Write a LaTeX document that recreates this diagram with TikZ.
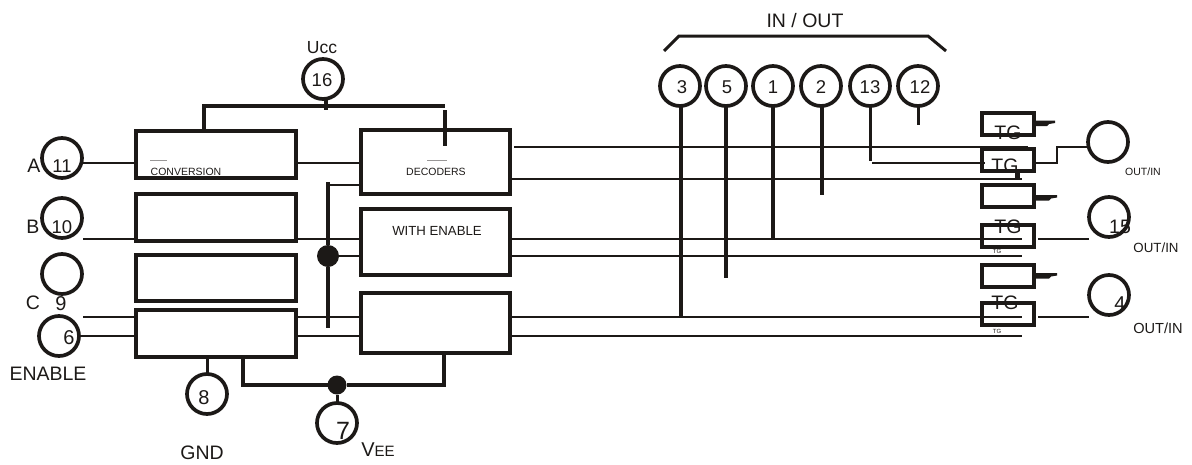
\documentclass[tikz,border=0pt]{standalone}
\usepackage{fontspec}
\setmainfont{Liberation Sans}
\definecolor{ink}{HTML}{1C1917}
\tikzset{
  txt/.style={font=\fontsize{#1}{#1}\selectfont, inner sep=0pt, outer sep=0pt, text=ink},
  pin/.style={circle, draw=ink, line width=3.7pt, minimum size=40pt, inner sep=0pt, outer sep=0pt},
  block/.style={rectangle, draw=ink, line width=4pt, inner sep=0pt, outer sep=0pt},
  tgbox/.style={block, minimum width=52pt, minimum height=22pt},
  wire/.style={draw=ink, line width=2.7pt},
  heavy/.style={draw=ink, line width=3.6pt},
  dot/.style={circle, fill=ink, inner sep=0pt, outer sep=0pt},
  stub/.style={fill=ink, draw=none},
  greek/.style={draw=ink!45, line width=1pt}
}
\begin{document}
\begin{tikzpicture}[x=1pt,y=-1pt]
\useasboundingbox (0,0) rectangle (1192,464);
% pins
\node[pin] (p11) at (62,158) {};
\node[pin] (p10) at (62,218) {};
\node[pin] (p9) at (62,274) {};
\node[pin] (p6) at (59,336) {};
\node[pin] (p8) at (207,394) {};
\node[pin] (p7) at (337,423) {};
\node[pin] (p16) at (323,79) {};
\node[pin] (p3) at (680,86) {};
\node[pin] (p5) at (726,86) {};
\node[pin] (p1) at (773,86) {};
\node[pin] (p2) at (821,86) {};
\node[pin] (p13) at (870,86) {};
\node[pin] (p12) at (918,86) {};
\node[pin] (pa) at (1108,142) {};
\node[pin] (p15) at (1109,217) {};
\node[pin] (p4) at (1109,295) {};
% blocks
\node[block, minimum width=160pt, minimum height=47pt] (c1) at (215.5,154) {};
\node[block, minimum width=160pt, minimum height=47pt] (c2) at (215.5,217.5) {};
\node[block, minimum width=160pt, minimum height=46pt] (c3) at (215.5,278) {};
\node[block, minimum width=160pt, minimum height=47pt] (c4) at (215.5,333.5) {};
\node[block, minimum width=149pt, minimum height=64pt] (d1) at (435.5,162) {};
\node[block, minimum width=149pt, minimum height=66pt] (d2) at (435.5,242) {};
\node[block, minimum width=149pt, minimum height=60pt] (d3) at (435.5,323) {};
% TG boxes
\node[tgbox] (t1) at (1008,124) {};
\node[tgbox] (t2) at (1008,160) {};
\node[tgbox] (t3) at (1008,196) {};
\node[tgbox] (t4) at (1008,236) {};
\node[tgbox] (t5) at (1008,276) {};
\node[tgbox] (t6) at (1008,314) {};
% junctions
\node[dot, minimum size=22pt] (j1) at (328,256) {};
\node[dot, minimum size=19pt] (j2) at (337,385) {};
% free ends
\coordinate (eA) at (83,163);
\coordinate (eB) at (83,239);
\coordinate (eC) at (83,317);
\coordinate (r1) at (514,147);
\coordinate (r1e) at (1028,147);
\coordinate (r2e) at (1022,179);
\coordinate (r3e) at (1022,239);
\coordinate (r4e) at (1022,256);
\coordinate (r5e) at (1022,317);
\coordinate (r6e) at (1022,336);
\coordinate (e13s) at (872,163);
\coordinate (e13e) at (985,163);
\coordinate (k1) at (1057,163);
\coordinate (k2) at (1057,147);
\coordinate (o4) at (1038,239);
\coordinate (o6) at (1038,317);
\coordinate (v1) at (328,182);
\coordinate (v2) at (328,328);
\coordinate (bus1) at (204,106);
\coordinate (bus2) at (445,106);
\coordinate (bus3) at (445,110);
\coordinate (bus4) at (445,146);
\coordinate (g1) at (243,385);
\coordinate (g2) at (444,385);
% wires left
\draw[wire] (p11.east |- eA) -- (c1.west |- eA);
\draw[wire] (eB) -- (c2.west |- eB);
\draw[wire] (eC) -- (c4.west |- eC);
\draw[wire] (p6.east) -- (c4.west |- p6.east);
\draw[wire] (c1.east |- eA) -- (d1.west |- eA);
\draw[wire] (c2.east |- eB) -- (d2.west |- eB);
\draw[wire] (c4.east |- eC) -- (d3.west |- eC);
\draw[wire] (c4.east |- p6.east) -- (d3.west |- p6.east);
\draw[wire] (j1) -- (d2.west |- j1);
\draw[heavy] (v1) -- (j1) -- (v2);
\draw[wire] (v1 |- 0,185) -- (d1.west |- 0,185);
% power
\draw[heavy, line width=4pt] (c1.north -| bus1) -- (bus1) -- (bus2);
\draw[heavy] (p16.south -| 326,0) -- (326,110);
\draw[heavy] (bus3) -- (bus4);
% ground / vee
\draw[wire, line width=3pt] (p8.north |- c4.south) -- (p8.north);
\draw[heavy] (c4.south -| g1) -- (g1) -- (j2) -- (g2) -- (d3.south -| g2);
\draw[wire, line width=3pt] (j2) -- (p7.north);
% long horizontals
\draw[wire] (r1) -- (r1e);
\draw[wire] (d1.east |- r2e) -- (r2e);
\draw[wire] (d2.east |- r3e) -- (r3e);
\draw[wire] (d2.east |- r4e) -- (r4e);
\draw[wire] (d3.east |- r5e) -- (r5e);
\draw[wire] (d3.east |- r6e) -- (r6e);
% I/O verticals
\draw[heavy] (p3.south -| 681,0) -- (681,316);
\draw[heavy] (p5.south) -- (726,278);
\draw[heavy] (p1.south) -- (773,238);
\draw[heavy] (p2.south -| 822,0) -- (822,195);
\draw[wire, line width=3pt] (p13.south) -- (870,161);
\draw[wire, line width=3pt] (p12.south) -- (918,125);
\draw[wire] (e13s) -- (e13e);
% brace
\draw[heavy, line width=3pt] (664,51) -- (679,36) -- (928,36) -- (946,51);
% TG outputs
\draw[wire] (t2.east |- k1) -- (k1) -- (k2) -- (pa.west |- k2);
\draw[wire] (o4) -- (p15.west |- o4);
\draw[wire] (o6) -- (p4.west |- o6);
\fill[stub] (t1.east |- 0,120.5) -- (1055,120.5) -- (1055,123) -- (1049,124) -- (1047,126) -- (t1.east |- 0,126) -- cycle;
\fill[stub] (t3.east |- 0,195) -- (1057,195) -- (1057,197.5) -- (1051,198.5) -- (1049,200.5) -- (t3.east |- 0,200.5) -- cycle;
\fill[stub] (t5.east |- 0,273) -- (1057,273) -- (1057,275.5) -- (1051,276.5) -- (1049,278.5) -- (t5.east |- 0,278.5) -- cycle;
\fill[stub] (1015,172) rectangle (1020,178);
% tiny marks
\draw[greek] (150,160) -- (167,160);
\draw[greek] (427,160) -- (447,160);
% labels
\node[txt=17.5] (lucc) at (322,48) {Ucc};
\node[txt=19.5] (lio) at (805,21) {IN / OUT};
\node[txt=19.5] (lA) at (34,166) {A};
\node[txt=19.5] (lB) at (33,227) {B};
\node[txt=19.5] (lC) at (33,303) {C};
\node[txt=19.5] (lenable) at (48,374) {ENABLE};
\node[txt=19.5] (lgnd) at (202,453) {GND};
\node[txt=20] (lvee) at (378,450) {V{\fontsize{15}{15}\selectfont EE}};
\node[txt=18.5] (n11) at (62,166) {11};
\node[txt=18.5] (n10) at (62,227) {10};
\node[txt=20] (n9) at (61,304) {9};
\node[txt=20] (n6) at (69,338) {6};
\node[txt=20] (n8) at (204,398) {8};
\node[txt=25] (n7) at (343,431) {7};
\node[txt=18.5] (n16) at (322,80) {16};
\node[txt=18.5] (n3) at (682,87) {3};
\node[txt=18.5] (n5) at (727,87) {5};
\node[txt=18.5] (n1) at (773,87) {1};
\node[txt=18.5] (n2) at (821,87) {2};
\node[txt=18.5] (n13) at (870,87) {13};
\node[txt=18.5] (n12) at (920,87) {12};
\node[txt=19.5] (n15) at (1120,227) {15};
\node[txt=20] (n4) at (1120,304) {4};
\node[txt=10.5] (lconv) at (186,172) {CONVERSION};
\node[txt=10.5] (ldec) at (436,172) {DECODERS};
\node[txt=13.2] (lwith) at (437,231) {WITH ENABLE};
\node[txt=19.5] (tg1) at (1008,133) {TG};
\node[txt=19.5] (tg2) at (1005,166) {TG};
\node[txt=19.5] (tg3) at (1008,227) {TG};
\node[txt=19.5] (tg4) at (1005,303) {TG};
\node[txt=6] (tgs1) at (997,251) {TG};
\node[txt=6] (tgs2) at (997,331) {TG};
\node[txt=10.5] (lo1) at (1143,172) {OUT/IN};
\node[txt=13.3] (lo2) at (1156,248) {OUT/IN};
\node[txt=14.6] (lo3) at (1158,328) {OUT/IN};
\end{tikzpicture}
\end{document}
